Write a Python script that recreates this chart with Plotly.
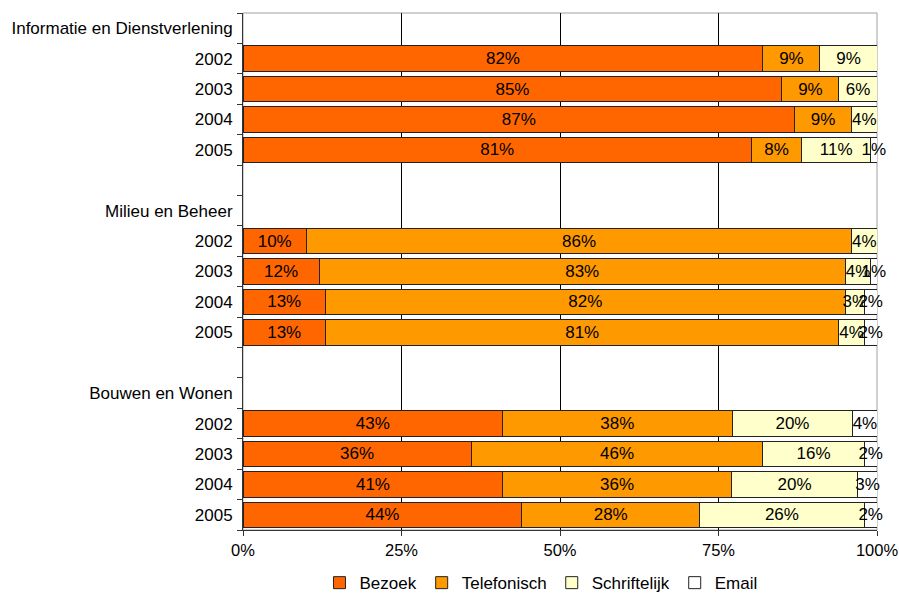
import plotly.graph_objects as go

# Row labels (top to bottom) and unique ids for the category axis
row_labels = ["Informatie en Dienstverlening", "2002", "2003", "2004", "2005", "",
              "Milieu en Beheer", "2002", "2003", "2004", "2005", "",
              "Bouwen en Wonen", "2002", "2003", "2004", "2005"]
row_ids = [f"row{i}" for i in range(len(row_labels))]

bezoek = [None, 82, 85, 87, 81, None, None, 10, 12, 13, 13, None, None, 43, 36, 41, 44]
telefonisch = [None, 9, 9, 9, 8, None, None, 86, 83, 82, 81, None, None, 38, 46, 36, 28]
schriftelijk = [None, 9, 6, 4, 11, None, None, 4, 4, 3, 4, None, None, 20, 16, 20, 26]
email = [None, None, None, None, 1, None, None, None, 1, 2, 2, None, None, 4, 2, 3, 2]

series = [
    ("Bezoek", bezoek, "#FF6600"),
    ("Telefonisch", telefonisch, "#FF9900"),
    ("Schriftelijk", schriftelijk, "#FFFFCC"),
    ("Email", email, "#FFFFFF"),
]

x_ticks = [0, 25, 50, 75, 100]
x_tick_labels = ["0%", "25%", "50%", "75%", "100%"]

FONT = "Liberation Sans, Arial, sans-serif"
FS = 17

fig = go.Figure()
for name, vals, color in series:
    fig.add_trace(go.Bar(
        name=name,
        y=row_ids,
        x=vals,
        orientation="h",
        marker=dict(color=color, line=dict(color="#222222", width=1)),
        text=[f"{v}%" if v else "" for v in vals],
        textposition="inside",
        insidetextanchor="middle",
        textangle=0,
        constraintext="none",
        insidetextfont=dict(family=FONT, size=FS, color="black"),
        cliponaxis=False,
        hoverinfo="skip",
    ))

fig.update_layout(
    width=899, height=595,
    margin=dict(l=243, r=22, t=13, b=65, autoexpand=False),
    paper_bgcolor="white", plot_bgcolor="white",
    barmode="stack", barnorm="percent", bargap=0.16,
    font=dict(family=FONT, size=FS, color="black"),
    showlegend=True,
    legend=dict(orientation="h", x=0.47, xanchor="center",
                yref="container", y=0.02, yanchor="middle",
                font=dict(family=FONT, size=FS, color="black"),
                itemwidth=30, traceorder="normal"),
    shapes=[dict(type="rect", xref="paper", yref="paper", x0=0, x1=1, y0=0, y1=1,
                 line=dict(color="#A0A0A0", width=1), layer="below")],
)

fig.update_xaxes(
    range=[0, 100], tickmode="array", tickvals=x_ticks, ticktext=x_tick_labels,
    showgrid=True, gridcolor="#000000", gridwidth=1,
    showline=True, linecolor="#333333", linewidth=1,
    ticks="outside", ticklen=5, tickcolor="#333333",
    zeroline=False, automargin=False,
    tickfont=dict(family=FONT, size=16.5, color="black"),
)

fig.update_yaxes(
    type="category", categoryorder="array", categoryarray=row_ids,
    range=[len(row_ids) - 0.5, -0.5],
    tickmode="array", tickvals=row_ids, ticktext=row_labels,
    tickson="boundaries", ticks="outside", ticklen=5, tickcolor="#333333",
    ticklabelstandoff=6,
    showline=True, linecolor="#333333", linewidth=1,
    showgrid=False, zeroline=False, automargin=False,
    tickfont=dict(family=FONT, size=FS, color="black"),
)

# Remove the default page margin so the 899x595 figure fills the window exactly
fig.write_html("out.html",
               config={"displayModeBar": False},
               post_script="document.body.style.margin='0';document.body.style.overflow='hidden';")
